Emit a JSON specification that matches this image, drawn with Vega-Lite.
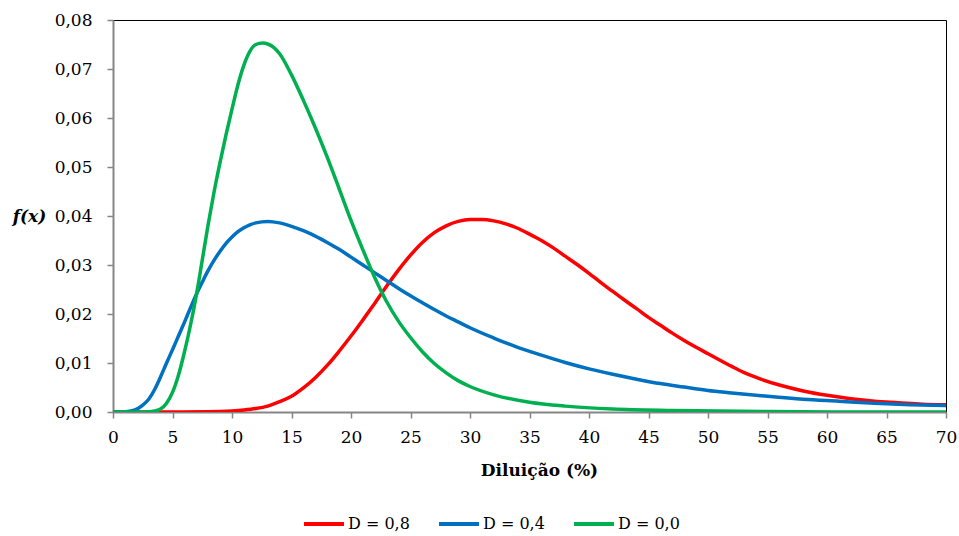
{
  "$schema": "https://vega.github.io/schema/vega-lite/v6.json",
  "autosize": "none",
  "width": 833,
  "height": 392,
  "padding": {"left": 113, "top": 20, "right": 13, "bottom": 124},
  "background": "white",
  "config": {
    "font": "DejaVu Serif",
    "view": {"stroke": "#000000", "strokeWidth": 1}
  },
  "datasets": {
    "red": [[0,0],[4,0],[8,0.00003],[10,0.0002],[11,0.0004],[12,0.0007],[13,0.0012],[14,0.0021],[15,0.0032],[16,0.0049],[17,0.0070],[18,0.0095],[19,0.0124],[20,0.0155],[21,0.0188],[22,0.0222],[23,0.0257],[24,0.0290],[25,0.0320],[26,0.0346],[27,0.0366],[28,0.0380],[29,0.0389],[30,0.0393],[31,0.0393],[32,0.0390],[33,0.0384],[34,0.0375],[35,0.0363],[36,0.0350],[37,0.0335],[38,0.0318],[39,0.0301],[40,0.0283],[41,0.0264],[42,0.0246],[43,0.0228],[44,0.0211],[45,0.0193],[46,0.0177],[47,0.0161],[48,0.0146],[49,0.0132],[50,0.0119],[52,0.0093],[53,0.0081],[54,0.0071],[56,0.0055],[58,0.0043],[60,0.0034],[62,0.0027],[64,0.0022],[66,0.0019],[68,0.0016],[70,0.0015]],
    "blue": [[0,0],[1,0.00005],[1.5,0.0002],[2,0.0006],[2.5,0.0014],[3,0.0026],[3.5,0.0046],[4,0.0072],[4.5,0.0100],[5,0.0127],[5.5,0.0155],[6,0.0183],[6.5,0.0212],[7,0.0240],[7.5,0.0265],[8,0.0289],[8.5,0.0310],[9,0.0328],[9.5,0.0344],[10,0.0357],[10.5,0.0368],[11,0.0376],[11.5,0.0382],[12,0.0386],[13,0.0389],[14,0.0386],[15,0.0379],[16,0.0370],[17,0.0359],[18,0.0346],[19,0.0332],[20,0.0316],[21,0.0300],[22,0.0284],[23,0.0268],[24,0.0252],[25,0.0237],[26,0.0223],[27,0.0209],[28,0.0196],[29,0.0184],[30,0.0172],[32,0.0151],[34,0.0132],[36,0.0116],[38,0.0101],[40,0.0088],[42,0.0077],[44,0.0067],[46,0.0058],[48,0.0051],[50,0.0044],[52,0.0039],[55,0.0032],[58,0.0026],[61,0.0022],[64,0.0018],[67,0.0015],[70,0.0013]],
    "green": [[0,0],[2,0],[3,0.00005],[3.5,0.0002],[4,0.0006],[4.5,0.0018],[5,0.0040],[5.5,0.0075],[6,0.0122],[6.5,0.0176],[7,0.0238],[7.5,0.0310],[8,0.0383],[8.5,0.0450],[9,0.0510],[9.5,0.0566],[10,0.0618],[10.5,0.0668],[11,0.0708],[11.5,0.0736],[12,0.0750],[12.6,0.0753],[13,0.0751],[13.5,0.0744],[14,0.0731],[15,0.0688],[16,0.0636],[17,0.0580],[18,0.0520],[19,0.0456],[20,0.0391],[21,0.0331],[22,0.0274],[23,0.0225],[24,0.0185],[25,0.0152],[26,0.0123],[27,0.0099],[28,0.0080],[29,0.0064],[30,0.0052],[32,0.0035],[35,0.0020],[38,0.0012],[42,0.0006],[47,0.0003],[55,0.0001],[62,0],[70,0]]
  },
  "layer": [
    {
      "data": {"name": "red"},
      "transform": [
        {"calculate": "datum[0]", "as": "x"},
        {"calculate": "datum[1]", "as": "y"},
        {"calculate": "'D = 0,8'", "as": "s"}
      ],
      "mark": {"type": "line", "interpolate": "monotone", "strokeWidth": 3.5, "clip": true},
      "encoding": {
        "x": {"field": "x", "type": "quantitative"},
        "y": {"field": "y", "type": "quantitative"},
        "color": {"field": "s", "type": "nominal"}
      }
    },
    {
      "data": {"name": "blue"},
      "transform": [
        {"calculate": "datum[0]", "as": "x"},
        {"calculate": "datum[1]", "as": "y"},
        {"calculate": "'D = 0,4'", "as": "s"}
      ],
      "mark": {"type": "line", "interpolate": "monotone", "strokeWidth": 3.5, "clip": true},
      "encoding": {
        "x": {"field": "x", "type": "quantitative"},
        "y": {"field": "y", "type": "quantitative"},
        "color": {"field": "s", "type": "nominal"}
      }
    },
    {
      "data": {"name": "green"},
      "transform": [
        {"calculate": "datum[0]", "as": "x"},
        {"calculate": "datum[1]", "as": "y"},
        {"calculate": "'D = 0,0'", "as": "s"}
      ],
      "mark": {"type": "line", "interpolate": "monotone", "strokeWidth": 3.5, "clip": true},
      "encoding": {
        "x": {
          "field": "x", "type": "quantitative",
          "scale": {"domain": [0, 70], "nice": false, "zero": false},
          "axis": {
            "title": "Diluição (%)",
            "values": [0,5,10,15,20,25,30,35,40,45,50,55,60,65,70],
            "grid": false,
            "domainColor": "#868686", "domainWidth": 2,
            "tickColor": "#868686", "tickWidth": 1.5, "tickSize": 6,
            "labelFont": "DejaVu Serif", "labelFontSize": 17, "labelColor": "#000000",
            "labelPadding": 11, "labelFlush": false,
            "titleFont": "DejaVu Serif", "titleFontSize": 17, "titleFontWeight": "bold", "titleColor": "#000000",
            "titleX": 426, "titlePadding": 17
          }
        },
        "y": {
          "field": "y", "type": "quantitative",
          "scale": {"domain": [0, 0.08], "nice": false},
          "axis": {
            "title": "f(x)",
            "values": [0,0.01,0.02,0.03,0.04,0.05,0.06,0.07,0.08],
            "labelExpr": "replace(format(datum.value, '.2f'), '.', ',')",
            "grid": false,
            "domainColor": "#868686", "domainWidth": 2,
            "tickColor": "#868686", "tickWidth": 1.5, "tickSize": 6,
            "labelFont": "DejaVu Serif", "labelFontSize": 17, "labelColor": "#000000",
            "labelPadding": 15,
            "titleFont": "DejaVu Serif", "titleFontSize": 17, "titleFontWeight": "bold", "titleFontStyle": "italic", "titleColor": "#000000",
            "titleAngle": 0, "titleX": -84, "titleY": 196, "titleAlign": "center", "titleBaseline": "middle"
          }
        },
        "color": {
          "field": "s", "type": "nominal",
          "scale": {"domain": ["D = 0,8", "D = 0,4", "D = 0,0"], "range": ["#FF0000", "#0070C0", "#00B050"]},
          "legend": {
            "title": null,
            "orient": "none",
            "direction": "horizontal",
            "legendX": 189,
            "legendY": 482,
            "symbolType": "stroke",
            "symbolSize": 1600,
            "symbolStrokeWidth": 4,
            "labelFont": "DejaVu Serif",
            "labelFontSize": 16,
            "labelColor": "#000000",
            "labelOffset": 2,
            "columnPadding": 21
          }
        }
      }
    }
  ]
}
